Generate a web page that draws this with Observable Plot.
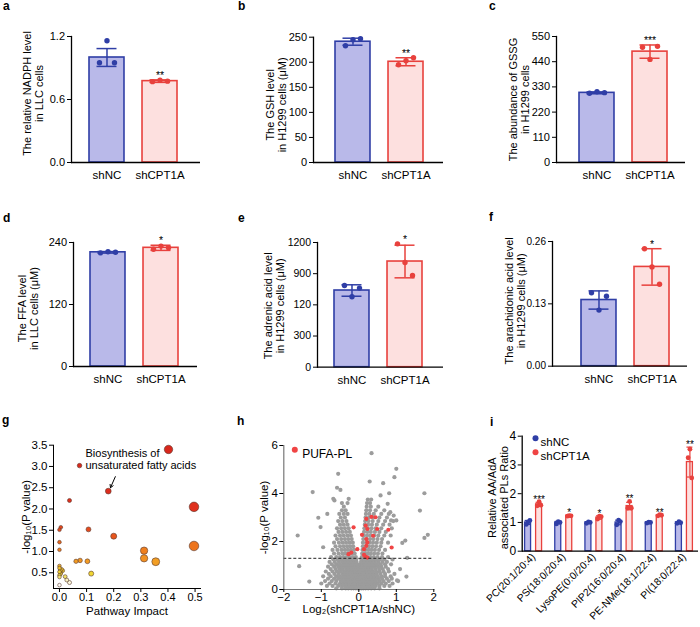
<!DOCTYPE html>
<html><head><meta charset="utf-8">
<script src="https://cdn.jsdelivr.net/npm/d3@7"></script>
<script src="https://cdn.jsdelivr.net/npm/@observablehq/plot@0.6"></script>
<style>
body{margin:0;background:#fff;}
#fig{position:relative;width:700px;height:627px;background:#fff;overflow:hidden;font-family:"Liberation Sans",Arial,Helvetica,sans-serif;}
#fig svg{position:absolute;overflow:visible;}
</style></head><body><div id="fig"></div>
<script>
// ---------------- DATA ----------------
const groups = ["shNC", "shCPT1A"];
// panel a
const aMean = [1.00, 0.775], aErr = [0.085, 0.012], aPts = [[0.95, 1.16, 0.95], [0.77, 0.785, 0.775]];
const aTicks = [0, 0.6, 1.2], aTickLabels = ["0.0", "0.6", "1.2"];
// panel b
const bMean = [241, 201], bErr = [7, 8], bPts = [[233, 245, 247], [195, 203, 209]];
const bTicks = [0, 50, 100, 150, 200, 250], bTickLabels = ["0", "50", "100", "150", "200", "250"];
// panel c
const cMean = [304, 484], cErr = [4, 29], cPts = [[302, 309, 305], [503, 450, 507]];
const cTicks = [0, 110, 220, 330, 440, 550], cTickLabels = ["0", "110", "220", "330", "440", "550"];
// panel d
const dMean = [221, 229.7], dErr = [1.5, 5], dPts = [[220, 222, 221], [227, 233, 230]];
const dTicks = [0, 120, 240], dTickLabels = ["0", "120", "240"];
// panel e
const eMean = [738, 1017], eErr = [55, 157], ePts = [[786, 678, 761], [1187, 1007, 882]];
const eTicks = [0, 300, 600, 900, 1200], eTickLabels = ["0", "300", "120", "900", "1200"];
// panel f
const fMean = [0.138, 0.207], fErr = [0.019, 0.038], fPts = [[0.153, 0.117, 0.146], [0.245, 0.207, 0.171]];
const fTicks = [0, 0.13, 0.26], fTickLabels = ["0.00", "0.13", "0.26"];
const stars = {a: "**", b: "**", c: "***", d: "*", e: "*", f: "*"};

// panel g: pathway impact vs -log10 P
const gImpact = [0.402, 0.074, 0.18, 0.037, 0.496, 0.005, 0, 0.107, 0.2, 0, 0, 0.312, 0.312, 0.496, 0.355, 0.061, 0.076, 0.103, 0.117,
  0, 0, 0.003, 0, 0.008, 0.012, 0.004, 0, 0, 0.005, 0.021, 0.027, 0.037, 0];
const gLogP = [3.40, 3.02, 2.42, 2.20, 2.05, 1.57, 1.51, 1.52, 1.36, 1.22, 1.04, 1.02, 0.84, 1.13, 0.76, 0.77, 0.79, 0.77, 0.48,
  0.66, 0.61, 0.56, 0.52, 0.58, 0.55, 0.47, 0.44, 0.40, 0.50, 0.41, 0.33, 0.27, 0.21];
const gTicksX = [0, 0.1, 0.2, 0.3, 0.4, 0.5], gTicksY = [0.5, 1, 1.5, 2, 2.5, 3, 3.5];
const gAnnotation = {text: "Biosynthesis of\nunsaturated fatty acids", x: 0.096, y: 3.17, x1: 0.206, y1: 2.76, x2: 0.188, y2: 2.50};

// panel h: volcano (rows of log2FC values at a given -log10 P)
const hRows = [
  [0.05, "-0.6 -0.45 -0.35 -0.28 -0.2 -0.14 -0.08 -0.03 0.02 0.07 0.12 0.18 0.25 0.33 0.42 0.55"],
  [0.15, "-0.85 -0.7 -0.55 -0.45 -0.37 -0.3 -0.23 -0.17 -0.11 -0.05 0 0.05 0.1 0.16 0.22 0.29 0.36 0.45 0.55 0.68 0.82"],
  [0.25, "-1.0 -0.78 -0.62 -0.5 -0.41 -0.33 -0.26 -0.19 -0.13 -0.07 -0.02 0.04 0.09 0.15 0.21 0.27 0.34 0.42 0.5 0.6 0.72 0.9"],
  [0.35, "-0.9 -0.72 -0.6 -0.48 -0.4 -0.32 -0.25 -0.18 -0.12 -0.06 0 0.06 0.12 0.18 0.24 0.31 0.38 0.46 0.56 0.66 0.8 1.05"],
  [0.45, "-0.82 -0.66 -0.55 -0.45 -0.36 -0.29 -0.22 -0.15 -0.09 -0.03 0.03 0.09 0.15 0.21 0.28 0.35 0.43 0.52 0.62 0.75 0.88"],
  [0.55, "-0.95 -0.75 -0.6 -0.5 -0.41 -0.33 -0.26 -0.19 -0.12 -0.06 0 0.06 0.12 0.19 0.26 0.33 0.41 0.5 0.6 0.7 0.85"],
  [0.65, "-0.8 -0.65 -0.54 -0.44 -0.36 -0.28 -0.21 -0.14 -0.08 -0.02 0.04 0.1 0.17 0.24 0.31 0.39 0.48 0.58 0.7 0.95"],
  [0.75, "-0.88 -0.7 -0.58 -0.48 -0.39 -0.31 -0.23 -0.16 -0.1 -0.04 0.03 0.09 0.15 0.22 0.29 0.37 0.46 0.55 0.66 0.8"],
  [0.85, "-0.75 -0.62 -0.52 -0.43 -0.34 -0.26 -0.19 -0.12 -0.06 0.01 0.07 0.13 0.2 0.27 0.35 0.44 0.54 0.64 0.78 1.1"],
  [0.95, "-0.82 -0.66 -0.55 -0.46 -0.37 -0.29 -0.21 -0.14 -0.08 -0.02 0.05 0.11 0.18 0.25 0.33 0.42 0.51 0.6 0.72"],
  [1.05, "-0.72 -0.6 -0.5 -0.41 -0.33 -0.25 -0.18 -0.11 -0.05 0.03 0.09 0.16 0.23 0.31 0.39 0.48 0.58 0.7 0.86"],
  [1.15, "-0.78 -0.64 -0.53 -0.44 -0.35 -0.27 -0.19 -0.12 -0.06 0.06 0.12 0.19 0.26 0.34 0.43 0.52 0.63 0.75"],
  [1.25, "-0.68 -0.57 -0.47 -0.38 -0.3 -0.22 -0.14 -0.07 0.07 0.14 0.21 0.29 0.37 0.46 0.56 0.68 0.9"],
  [1.35, "-0.74 -0.6 -0.5 -0.41 -0.32 -0.24 -0.16 -0.08 0.08 0.15 0.23 0.31 0.4 0.5 0.62 0.78"],
  [1.5, "-0.66 -0.54 -0.44 -0.35 -0.27 -0.19 -0.11 0.09 0.16 0.24 0.32 0.41 0.51 0.63"],
  [1.65, "-0.7 -0.57 -0.46 -0.37 -0.29 -0.21 -0.13 0.1 0.18 0.26 0.34 0.43 0.54 0.7"],
  [1.8, "-0.62 -0.5 -0.4 -0.31 -0.23 -0.15 0.11 0.19 0.27 0.36 0.46 0.58"],
  [1.95, "-0.66 -0.53 -0.43 -0.34 -0.25 -0.16 0.11 0.2 0.29 0.38 0.48 0.6 0.78"],
  [2.1, "-0.58 -0.47 -0.37 -0.28 -0.19 0.12 0.21 0.3 0.39 0.5 0.62"],
  [2.25, "-0.62 -0.5 -0.4 -0.3 -0.21 0.13 0.22 0.31 0.41 0.52 0.68 0.85"],
  [2.4, "-0.54 -0.44 -0.34 -0.24 0.14 0.23 0.32 0.43 0.55 0.72"],
  [2.55, "-0.58 -0.47 -0.37 -0.27 0.15 0.24 0.34 0.45 0.6 0.88"],
  [2.7, "-0.5 -0.4 -0.3 0.16 0.25 0.35 0.48 0.65 0.82"],
  [2.85, "-0.55 -0.44 -0.33 0.17 0.26 0.37 0.52 0.7 0.92"],
  [3.0, "-0.48 -0.37 0.18 0.27 0.39 0.55 0.75"],
  [3.15, "-0.52 -0.4 -0.3 0.19 0.28 0.4 0.6 0.8"],
  [3.3, "-0.45 -0.35 0.2 0.3 0.45 0.68"],
  [3.45, "-0.4 0.21 0.32 0.52"],
  [3.6, "-0.45 -0.3 0.22 0.3"],
  [3.75, "0.24 0.33"]
];
const hOutX = [0.34, 1.0, -0.55, 0.95, -1.23, -0.58, -0.49, 0.29, 0.65, 0.81, 1.75, 1.63, 1.75, 1.84, 1.24, 1.16, -1.63, -1.08, -1.59, -1.32, 1.27, 1.29, 1.02, -0.27, -0.68, -0.65, -0.84, -1.02, -0.95, 0.84, 0.86, 1.0, 0.93, 0.58, 0.77];
const hOutY = [5.68, 5.03, 4.82, 4.68, 4.06, 4.24, 4.15, 4.5, 4.43, 4.01, 4.01, 3.29, 2.15, 2.28, 2.04, 1.94, 2.25, 2.99, 0.97, 0.33, 0.54, 1.32, 0.38, 3.78, 3.78, 3.71, 3.15, 2.6, 1.76, 3.22, 2.88, 2.88, 3.08, 3.92, 3.57];
const hRedX = [-0.139, 0.202, 0.184, 0.229, 0.337, 0.445, 0.49, 0.787, 0.382, 0.085, 0.202, 0.229, 0.202, -0.04, -0.274, -0.2, 0.14, 0.175, 0.229, 0.876, 0.14];
const hRedY = [2.59, 2.94, 2.66, 2.52, 3.03, 3.01, 2.52, 2.49, 2.24, 2.28, 2.10, 1.96, 1.82, 1.68, 1.47, 1.54, 1.44, 1.37, 1.33, 1.75, 1.68];
const hThreshold = 1.3;
const hTicksX = [-2, -1, 0, 1, 2], hTicksY = [0, 2, 4, 6];

// panel i
const iCats = ["PC(20:1/20:4)", "PS(18:0/20:4)", "LysoPE(0:0/20:4)", "PIP2(16:0/20:4)", "PE-NMe(18:1/22:4)", "PI(18:0/22:4)"];
const iNCMean = [1, 1, 1, 1, 1, 1], iNCErr = [0.07, 0.04, 0.03, 0.08, 0.03, 0.03];
const iNCPts = [[0.93, 1.02, 1.07], [0.95, 1.03, 1.0], [0.97, 1.02, 1.0], [0.92, 1.08, 1.03], [0.98, 1.01, 1.0], [0.97, 1.03, 0.99]];
const iKDMean = [1.63, 1.23, 1.17, 1.57, 1.25, 3.10], iKDErr = [0.07, 0.02, 0.06, 0.13, 0.02, 0.52];
const iKDPts = [[1.58, 1.72, 1.6], [1.22, 1.24, 1.23], [1.12, 1.22, 1.2], [1.5, 1.73, 1.5], [1.23, 1.27, 1.25], [3.25, 3.55, 2.55]];
const iStars = ["***", "*", "*", "**", "**", "**"];
const iTicks = [0, 1, 2, 3, 4];

// ---------------- DRAWING ----------------
const FONT = '"Liberation Sans", Arial, Helvetica, sans-serif';
const BLUE = "#2f3ea6", BLUEF = "#b9b9e9", RED = "#e8413d", REDF = "#fde0df";
const fig = document.getElementById("fig");
function place(svg, left, top) { svg.style.left = left + "px"; svg.style.top = top + "px"; fig.appendChild(svg); }
const baseStyle = {fontFamily: FONT, fontSize: "11px", color: "#000", background: "transparent", overflow: "visible"};
const yTitle = (t, dx, dy, fs) => Plot.text([t], {frameAnchor: "left", text: d => d, rotate: -90, textAnchor: "middle",
  lineAnchor: "middle", dx, dy, lineHeight: 1.08, fontSize: fs});
const minus = d => String(d).replace("-", "−");

function barPanel(o) {
  const stroke = {shNC: BLUE, shCPT1A: RED}, fill = {shNC: BLUEF, shCPT1A: REDF};
  const data = groups.map((g, i) => ({g, mean: o.mean[i], err: o.err[i],
    top: Math.max(o.mean[i] + o.err[i], ...o.pts[i]), star: i === 1 ? o.star : ""}));
  const pts = groups.flatMap((g, i) => o.pts[i].map((v, j) => ({g, v, j})));
  const svg = Plot.plot({
    width: 233, height: 205, marginLeft: o.ml, marginRight: o.mr, marginTop: o.mt, marginBottom: o.mb,
    style: baseStyle,
    x: {type: "band", domain: groups, range: [o.rs, o.rs + 88], paddingInner: 0.34, paddingOuter: 0, round: false, axis: null},
    y: {domain: [0, o.ticks[o.ticks.length - 1]], axis: null},
    color: {type: "identity"},
    marks: [
      Plot.barY(data, {x: "g", y: "mean", fill: d => fill[d.g], stroke: d => stroke[d.g], strokeWidth: 1.6}),
      Plot.ruleX(data, {x: "g", y1: d => d.mean - d.err, y2: d => d.mean + d.err, stroke: d => stroke[d.g], strokeWidth: 1.5}),
      Plot.tickY(data, {x: "g", y: d => d.mean + d.err, insetLeft: 7.5, insetRight: 7.5, stroke: d => stroke[d.g], strokeWidth: 1.5}),
      Plot.tickY(data, {x: "g", y: d => d.mean - d.err, insetLeft: 7.5, insetRight: 7.5, stroke: d => stroke[d.g], strokeWidth: 1.5}),
      ...[0, 1, 2].map(j => Plot.dot(pts.filter(p => p.j === j), {x: "g", y: "v", dx: (j - 1) * 7.5, r: 2.7, fill: d => stroke[d.g]})),
      Plot.text(data, {x: "g", y: "top", text: "star", lineAnchor: "bottom", dy: -1, fontSize: 10.5}),
      Plot.ruleY([0], {stroke: "#000", strokeWidth: 1.3}),
      Plot.frame({anchor: "left", stroke: "#000", strokeWidth: 1.3}),
      Plot.axisY({ticks: o.ticks, tickFormat: d => o.labels[o.ticks.indexOf(d)], tickSize: 4, tickPadding: 2.5, fontSize: o.tfs || 11, label: null}),
      Plot.axisX({tickSize: 0, tickPadding: 8.5, fontSize: 11.5, label: null}),
      yTitle(o.title, o.tdx, o.tdy, 11)
    ]
  });
  place(svg, o.cx, o.cy);
}

barPanel({cx: 0, cy: 0, ml: 71, mr: 33, mt: 36, mb: 43, rs: 89, ticks: aTicks, labels: aTickLabels, mean: aMean, err: aErr, pts: aPts, star: stars.a,
  title: "The relative NADPH level\nin LLC cells", tdx: -38, tdy: -6});
barPanel({cx: 233, cy: 0, ml: 80, mr: 23, mt: 36.7, mb: 43, rs: 102, ticks: bTicks, labels: bTickLabels, mean: bMean, err: bErr, pts: bPts, star: stars.b,
  title: "The GSH level\nin H1299 cells (μM)", tdx: -37.5, tdy: 5});
barPanel({cx: 466, cy: 0, ml: 90, mr: 14, mt: 36, mb: 43, rs: 113, ticks: cTicks, labels: cTickLabels, mean: cMean, err: cErr, pts: cPts, star: stars.c,
  title: "The abundance of GSSG\nin H1299 cells", tdx: -37, tdy: 0});
barPanel({cx: 0, cy: 205, ml: 73, mr: 36, mt: 37, mb: 44, rs: 90, ticks: dTicks, labels: dTickLabels, mean: dMean, err: dErr, pts: dPts, star: stars.d,
  title: "The FFA level\nin LLC cells (μM)", tdx: -45.5, tdy: 4});
barPanel({cx: 233, cy: 205, ml: 84, mr: 23, mt: 37, mb: 43.3, rs: 101, ticks: eTicks, labels: eTickLabels, mean: eMean, err: eErr, pts: ePts, star: stars.e,
  title: "The adrenic acid level\nin H1299 cells (μM)", tdx: -43, tdy: 1, tfs: 10.5});
barPanel({cx: 466, cy: 205, ml: 86, mr: 12, mt: 36, mb: 44.3, rs: 115, ticks: fTicks, labels: fTickLabels, mean: fMean, err: fErr, pts: fPts, star: stars.f,
  title: "The arachidonic acid level\nin H1299 cells (μM)", tdx: -37.5, tdy: -3, tfs: 10});

// panel g
{
  const gColor = d3.scaleLinear()
    .domain([0.2, 0.35, 0.45, 0.6, 0.8, 1.1, 1.4, 2.0, 3.5])
    .range(["#ffffff", "#f6efb5", "#f0da34", "#f2c52a", "#f29422", "#ee781c", "#e6501d", "#df301d", "#d8261c"]);
  const g = gImpact.map((x, i) => ({x, p: gLogP[i]}));
  const svg = Plot.plot({
    width: 233, height: 217, marginLeft: 53, marginRight: 33, marginTop: 34.7, marginBottom: 39,
    style: baseStyle,
    x: {domain: [-0.022, 0.52], axis: null},
    y: {domain: [0.13, 3.5], axis: null},
    r: {type: "linear", domain: [0, 0.5], range: [1.8, 4.8]},
    color: {type: "identity"},
    marks: [
      Plot.dot(g, {x: "x", y: "p", r: "x", fill: d => gColor(d.p), stroke: "#5a3a30", strokeWidth: 0.6}),
      Plot.text([gAnnotation], {x: "x", y: "y", text: "text", textAnchor: "start", lineHeight: 1.12, fontSize: 11}),
      Plot.arrow([gAnnotation], {x1: "x1", y1: "y1", x2: "x2", y2: "y2", headLength: 5, strokeWidth: 1, stroke: "#000"}),
      Plot.frame({anchor: "left", stroke: "#000", strokeWidth: 1}),
      Plot.frame({anchor: "bottom", stroke: "#000", strokeWidth: 1}),
      Plot.axisY({ticks: gTicksY, tickFormat: d3.format(".1f"), tickSize: 4, tickPadding: 2, fontSize: 11.5, label: null}),
      Plot.axisX({ticks: gTicksX, tickFormat: d3.format(".1f"), tickSize: 4, tickPadding: 1, fontSize: 11, label: null}),
      Plot.text(["Pathway Impact"], {frameAnchor: "bottom", text: d => d, dy: 26, fontSize: 11.5}),
      yTitle("-log₁₀(P value)", -27, 0, 11.5)
    ]
  });
  place(svg, 0, 410);
}

// panel h
{
  const gray = hRows.flatMap(([y, xs]) => xs.split(" ").map(x => ({x: +x, y})))
    .concat(hOutX.map((x, i) => ({x, y: hOutY[i]})));
  const red = hRedX.map((x, i) => ({x, y: hRedY[i]}));
  const svg = Plot.plot({
    width: 233, height: 217, marginLeft: 50.3, marginRight: 32.7, marginTop: 35, marginBottom: 38,
    style: baseStyle,
    x: {domain: [-2, 2], axis: null},
    y: {domain: [0, 6], axis: null},
    marks: [
      Plot.dot(gray, {x: "x", y: "y", r: 2.1, fill: "#9c9c9c"}),
      Plot.dot(red, {x: "x", y: "y", r: 2.1, fill: "#f04444"}),
      Plot.ruleY([hThreshold], {stroke: "#222", strokeWidth: 1, strokeDasharray: "3,2"}),
      Plot.frame({anchor: "left", stroke: "#777", strokeWidth: 1.2}),
      Plot.frame({anchor: "bottom", stroke: "#777", strokeWidth: 1.2}),
      Plot.axisY({ticks: hTicksY, tickFormat: minus, tickSize: 4, tickPadding: 2, fontSize: 11.5, label: null}),
      Plot.axisX({ticks: hTicksX, tickFormat: minus, tickSize: 3, tickPadding: 0, fontSize: 11.5, label: null}),
      Plot.dot([0], {frameAnchor: "top-left", dx: 11, dy: 4.3, r: 3, fill: "#f04444"}),
      Plot.text(["PUFA-PL"], {frameAnchor: "top-left", text: d => d, dx: 18.4, dy: 4.3, textAnchor: "start", fontSize: 12}),
      Plot.text(["Log₂(shCPT1A/shNC)"], {frameAnchor: "bottom", text: d => d, dy: 23, fontSize: 11.5}),
      yTitle("-log₁₀(P value)", -20, 0, 11.5)
    ]
  });
  place(svg, 233, 410);
}

// panel i
{
  const nc = iCats.map((c, i) => ({c, mean: iNCMean[i], err: iNCErr[i]}));
  const kd = iCats.map((c, i) => ({c, mean: iKDMean[i], err: iKDErr[i], star: iStars[i],
    top: Math.max(iKDMean[i] + iKDErr[i], ...iKDPts[i])}));
  const ncPts = iCats.flatMap((c, i) => iNCPts[i].map((v, j) => ({c, v, j})));
  const kdPts = iCats.flatMap((c, i) => iKDPts[i].map((v, j) => ({c, v, j})));
  const sw = 1.3;
  const group = (rows, pts, col, fcol, inL, inR, off) => [
    Plot.barY(rows, {x: "c", y: "mean", insetLeft: inL, insetRight: inR, fill: fcol, stroke: col, strokeWidth: sw}),
    Plot.ruleX(rows, {x: "c", y1: d => d.mean - d.err, y2: d => d.mean + d.err, dx: off, stroke: col, strokeWidth: 1.2}),
    Plot.tickY(rows, {x: "c", y: d => d.mean + d.err, insetLeft: inL, insetRight: inR, stroke: col, strokeWidth: 1.2}),
    Plot.tickY(rows, {x: "c", y: d => d.mean - d.err, insetLeft: inL, insetRight: inR, stroke: col, strokeWidth: 1.2}),
    ...[0, 1, 2].map(j => Plot.dot(pts.filter(p => p.j === j), {x: "c", y: "v", dx: off + (j - 1) * 1.8, r: 2.4, fill: col}))
  ];
  const svg = Plot.plot({
    width: 234, height: 217, marginLeft: 55.7, marginRight: 2, marginTop: 25.7, marginBottom: 76.3,
    style: baseStyle,
    x: {type: "band", domain: iCats, range: [52, 233], padding: 0, round: false, axis: null},
    y: {domain: [0, 4], axis: null},
    marks: [
      ...group(nc, ncPts, BLUE, BLUEF, 6.6, 17.6, -5.5),
      ...group(kd, kdPts, RED, REDF, 17.6, 6.6, 5.5),
      Plot.text(kd, {x: "c", y: "top", text: "star", dx: 5.5, lineAnchor: "bottom", dy: 1, fontSize: 10}),
      Plot.ruleY([0], {stroke: "#000", strokeWidth: 1.3}),
      Plot.frame({anchor: "left", stroke: "#000", strokeWidth: 1.3}),
      Plot.axisY({ticks: iTicks, tickFormat: d => String(d), tickSize: 4, tickPadding: 2, fontSize: 12, label: null}),
      Plot.axisX({tickRotate: -45, tickSize: 0, tickPadding: 4, fontSize: 10.3, label: null}),
      Plot.dot([0], {frameAnchor: "top-left", dx: 13.3, dy: 2, r: 3, fill: BLUE}),
      Plot.text(["shNC"], {frameAnchor: "top-left", text: d => d, dx: 18.3, dy: 2, textAnchor: "start", fontSize: 11.5}),
      Plot.dot([0], {frameAnchor: "top-left", dx: 13.3, dy: 16, r: 3, fill: "#ef4444"}),
      Plot.text(["shCPT1A"], {frameAnchor: "top-left", text: d => d, dx: 18.3, dy: 16, textAnchor: "start", fontSize: 11.5}),
      yTitle("Relative AA/AdA\nassociated PLs Ratio", -24, 4, 11)
    ]
  });
  place(svg, 466, 410);
}

// panel letters
{
  const letters = [["a", 3, 10], ["b", 238, 10], ["c", 489, 10], ["d", 3, 222], ["e", 238, 222], ["f", 489, 221],
    ["g", 2, 424], ["h", 237, 425], ["i", 490, 426]];
  const ns = "http://www.w3.org/2000/svg";
  const svg = document.createElementNS(ns, "svg");
  svg.setAttribute("width", 700); svg.setAttribute("height", 627);
  svg.style.left = "0px"; svg.style.top = "0px"; svg.style.pointerEvents = "none";
  for (const [t, x, y] of letters) {
    const el = document.createElementNS(ns, "text");
    el.setAttribute("x", x); el.setAttribute("y", y);
    el.setAttribute("font-family", FONT); el.setAttribute("font-weight", "bold"); el.setAttribute("font-size", "12");
    el.textContent = t; svg.appendChild(el);
  }
  fig.appendChild(svg);
}
</script></body></html>
